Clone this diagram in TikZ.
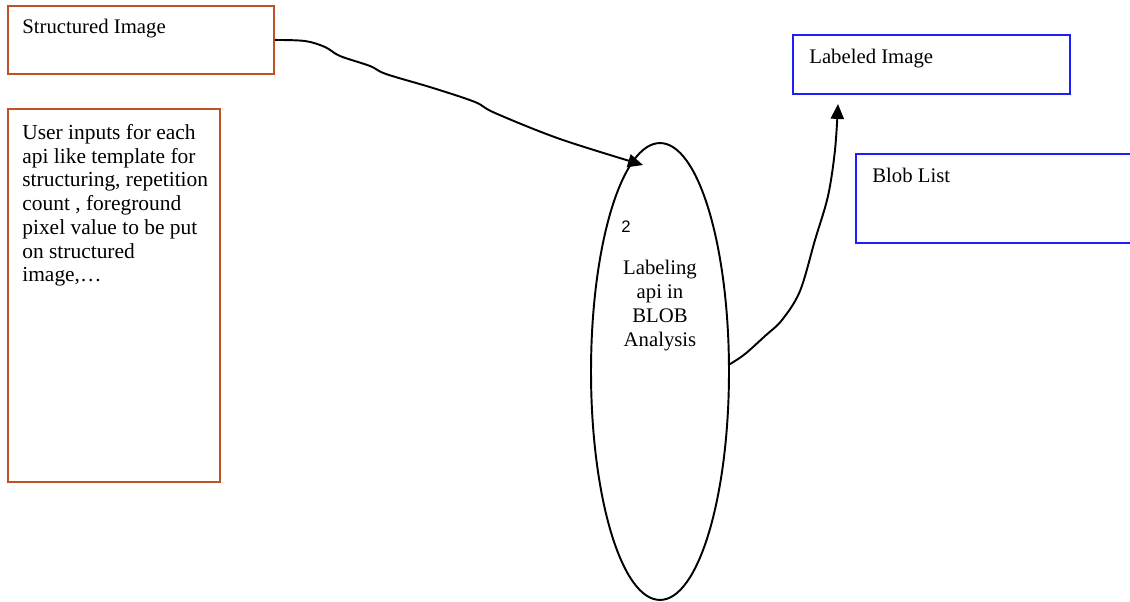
\documentclass[tikz,border=0pt]{standalone}
\usepackage{fontspec}
\setmainfont{Liberation Serif}
\newfontfamily\numfont{Liberation Sans}
\usetikzlibrary{shapes.geometric,arrows.meta}
\definecolor{boxorange}{RGB}{190,82,38}
\definecolor{boxblue}{RGB}{30,30,250}
\tikzset{
  orangebox/.style={draw=boxorange, line width=1.1pt, inner sep=0pt, anchor=north west},
  bluebox/.style={draw=boxblue, line width=1.1pt, inner sep=0pt, anchor=north west},
  txt/.style={inner sep=0pt, font=\fontsize{11.8}{13.6}\selectfont},
  wire/.style={draw=black, line width=1.1pt, -{Triangle[length=8.5pt,width=7.5pt]}},
}
\begin{document}
\begin{tikzpicture}[x=0.02cm, y=-0.02cm]
\useasboundingbox (0,0) rectangle (1130,602);
\clip (0,0) rectangle (1130,602);

% input boxes
\node[orangebox, minimum width=5.32cm, minimum height=1.36cm] (si) at (7,5) {};
\node[txt, anchor=base west] (sitext) at (22,33) {Structured Image};

\node[orangebox, minimum width=4.24cm, minimum height=7.46cm] (ui) at (7,108) {};
\node[txt, anchor=north west, align=left, font=\fontsize{12.2}{13.5}\selectfont] (uitext) at (22,124)
  {User inputs for each\\api like template for\\structuring, repetition\\count , foreground\\pixel value to be put\\on structured\\image,\dots};

% processing step
\node[draw, ellipse, line width=1.1pt, inner sep=0pt,
      minimum width=2.76cm, minimum height=9.14cm] (ell) at (660,371.5) {};
\node[inner sep=0pt, anchor=base, font=\numfont\fontsize{9.5}{10}\selectfont] (num) at (626,232) {2};
\node[txt, anchor=north, align=center] (elltext) at (660,260)
  {Labeling\\api in\\BLOB\\Analysis};

% outputs
\node[bluebox, minimum width=5.54cm, minimum height=1.18cm] (li) at (792,34) {};
\node[txt, anchor=base west] (litext) at (809,63) {Labeled Image};

\node[bluebox, minimum width=5.9cm, minimum height=1.78cm] (bl) at (855,153) {};
\node[txt, anchor=base west] (bltext) at (872,182) {Blob List};

% connectors
\coordinate (inTip) at (643,165);
\coordinate (outTip) at (838,104);
\draw[wire] plot[smooth, tension=0.55] coordinates {
  (si.east) (305,41) (325,47) (340,56) (370,66) (386,74) (433,88)
  (475,102) (495,113) (560,139) (inTip)};
\draw[wire] plot[smooth, tension=0.55] coordinates {
  (ell.6) (745,354) (765,336) (782,320) (800,291) (815,240) (828,196)
  (835,150) (outTip)};
\end{tikzpicture}
\end{document}
